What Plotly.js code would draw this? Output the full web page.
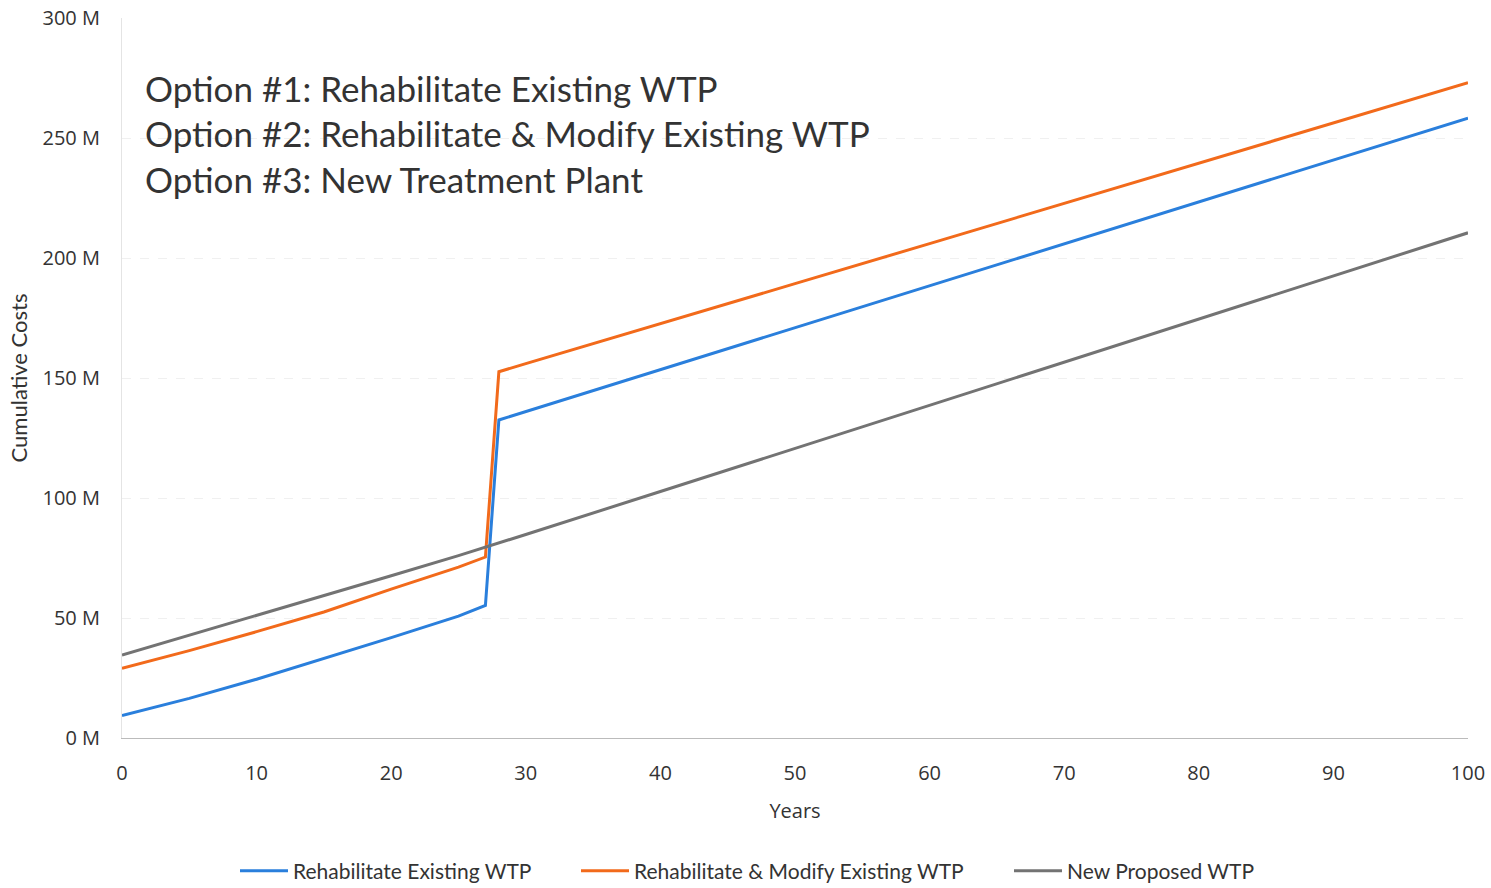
<!DOCTYPE html>
<html>
<head>
<meta charset="utf-8">
<script src="https://cdn.plot.ly/plotly-3.0.1.min.js"></script>
<style>html,body{margin:0;padding:0;background:#fff;}#chart{width:1491px;height:888px;}</style>
</head>
<body>
<div id="chart"></div>
<script>
const years = [0, 5, 10, 15, 20, 25, 27, 28, 30, 40, 50, 60, 70, 80, 90, 100];
const rehabExisting = [9.4, 16.5, 24.5, 33, 41.8, 50.8, 55.2, 132.5, 136, 153.5, 171, 188.5, 206, 223.5, 241, 258.3];
const rehabModify = [29, 36.4, 44.3, 52.5, 62, 71.2, 75.4, 152.6, 156, 172.5, 189.3, 206, 222.7, 239.5, 256.2, 273];
const newProposed = [34.6, 42.8, 51, 59.3, 67.6, 76, 79.5, 81.2, 84.8, 102.7, 120.7, 138.7, 156.6, 174.6, 192.5, 210.5];
const seriesNames = ["Rehabilitate Existing WTP", "Rehabilitate & Modify Existing WTP", "New Proposed WTP"];
const optionLabels = ["Option #1: Rehabilitate Existing WTP", "Option #2: Rehabilitate & Modify Existing WTP", "Option #3: New Treatment Plant"];
const yTicks = [0, 50, 100, 150, 200, 250, 300];
const yTickText = ["0 M", "50 M", "100 M", "150 M", "200 M", "250 M", "300 M"];
const xTicks = [0, 10, 20, 30, 40, 50, 60, 70, 80, 90, 100];

const colors = ["#2a7fdc", "#f26a1b", "#737373"];
const legendIds = ["legend", "legend2", "legend3"];
const seriesData = [rehabExisting, rehabModify, newProposed];
const traces = seriesData.map((ys, i) => ({
  x: years, y: ys, type: "scatter", mode: "lines", name: seriesNames[i],
  legend: legendIds[i],
  line: {color: colors[i], width: 3}
}));

const tickFont = {family: "Open Sans, Noto Sans, sans-serif", size: 20, color: "#333"};
const legFont = {family: "Lato, Open Sans, sans-serif", size: 21, color: "#333"};
const optY = [0.9028, 0.8403, 0.7764];
const annotations = optionLabels.map((t, i) => ({
  text: t, xref: "paper", yref: "paper", x: 0.0153, y: optY[i],
  xanchor: "left", yanchor: "middle", showarrow: false,
  font: {family: "Lato, Open Sans, sans-serif", size: 35, color: "#333"}
}));

const legendX = [235, 576, 1009];
function mkLegend(px) {
  return {orientation: "h", xref: "container", yref: "container", x: px / 1491, xanchor: "left",
    y: 17 / 888, yanchor: "middle", font: legFont, itemwidth: 48, bgcolor: "rgba(0,0,0,0)"};
}

const layout = {
  width: 1491, height: 888,
  margin: {l: 122, r: 23, t: 18, b: 150, autoexpand: false},
  paper_bgcolor: "#fff", plot_bgcolor: "#fff",
  showlegend: true,
  legend: mkLegend(legendX[0]),
  legend2: mkLegend(legendX[1]),
  legend3: mkLegend(legendX[2]),
  xaxis: {range: [0, 100], tickvals: xTicks, ticks: "", showgrid: false, zeroline: false,
    showline: true, linecolor: "#bbbbbb", linewidth: 1, tickfont: tickFont, ticklabelstandoff: 17,
    title: {text: "Years", font: {family: "Open Sans, sans-serif", size: 20, color: "#333"}, standoff: 18}},
  yaxis: {range: [0, 300], tickvals: yTicks, ticktext: yTickText, ticks: "", zeroline: false,
    showgrid: true, gridcolor: "#f0f0f0", griddash: "dash", gridwidth: 1,
    showline: true, linecolor: "#e4e4e4", linewidth: 1, tickfont: tickFont, ticklabelstandoff: 17,
    title: {text: "Cumulative Costs", font: {family: "Lato, sans-serif", size: 22, color: "#333"}, standoff: 8}},
  annotations: annotations
};
Plotly.newPlot("chart", traces, layout, {displayModeBar: false, staticPlot: true});
</script>
</body>
</html>
